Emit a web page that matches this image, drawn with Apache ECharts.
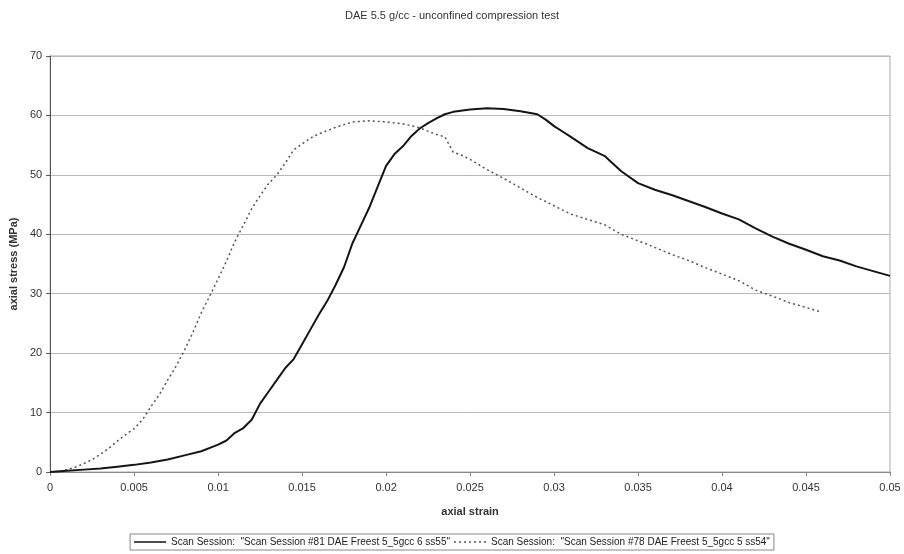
<!DOCTYPE html>
<html>
<head>
<meta charset="utf-8">
<script src="https://cdn.jsdelivr.net/npm/echarts@6/dist/echarts.min.js"></script>
<style>html,body{margin:0;padding:0;background:#fff;}#c{width:904px;height:554px;}</style>
</head>
<body>
<div id="c"></div>
<script>
const titleText = 'DAE 5.5 g/cc - unconfined compression test';
const xName = 'axial strain';
const yName = 'axial stress (MPa)';
const nameA = 'Scan Session:  "Scan Session #81 DAE Freest 5_5gcc 6 ss55"';
const nameB = 'Scan Session:  "Scan Session #78 DAE Freest 5_5gcc 5 ss54"';

const strainA = [0, 0.001, 0.002, 0.003, 0.004, 0.005, 0.006, 0.007, 0.008, 0.009, 0.010, 0.0105, 0.011, 0.0115, 0.012, 0.0125, 0.013, 0.0135, 0.014, 0.0145, 0.015, 0.0155, 0.016, 0.0165, 0.017, 0.0175, 0.018, 0.0185, 0.019, 0.0195, 0.020, 0.0205, 0.021, 0.0215, 0.022, 0.0225, 0.023, 0.0235, 0.024, 0.025, 0.026, 0.027, 0.028, 0.029, 0.0295, 0.030, 0.0305, 0.031, 0.032, 0.033, 0.034, 0.035, 0.036, 0.037, 0.038, 0.039, 0.040, 0.041, 0.042, 0.043, 0.044, 0.045, 0.046, 0.047, 0.048, 0.049, 0.050];
const stressA = [0, 0.2, 0.4, 0.6, 0.9, 1.2, 1.6, 2.1, 2.8, 3.5, 4.6, 5.3, 6.6, 7.4, 8.8, 11.5, 13.5, 15.5, 17.5, 19, 21.5, 24, 26.5, 28.8, 31.5, 34.5, 38.5, 41.5, 44.5, 48, 51.5, 53.5, 54.8, 56.5, 57.8, 58.7, 59.5, 60.2, 60.6, 61, 61.2, 61.1, 60.7, 60.2, 59.3, 58.2, 57.3, 56.4, 54.5, 53.2, 50.6, 48.6, 47.5, 46.6, 45.6, 44.6, 43.5, 42.5, 41, 39.6, 38.4, 37.4, 36.3, 35.6, 34.6, 33.8, 33];

const strainB = [0, 0.0005, 0.001, 0.0015, 0.002, 0.0025, 0.003, 0.0035, 0.004, 0.0045, 0.005, 0.0055, 0.006, 0.0065, 0.007, 0.0075, 0.008, 0.0085, 0.009, 0.0095, 0.010, 0.0105, 0.011, 0.0115, 0.012, 0.0125, 0.013, 0.0135, 0.014, 0.0145, 0.015, 0.0155, 0.016, 0.017, 0.018, 0.019, 0.020, 0.021, 0.022, 0.023, 0.0235, 0.024, 0.0245, 0.025, 0.026, 0.027, 0.028, 0.029, 0.030, 0.031, 0.032, 0.033, 0.034, 0.035, 0.036, 0.037, 0.038, 0.039, 0.040, 0.041, 0.042, 0.043, 0.044, 0.045, 0.0458];
const stressB = [0, 0.1, 0.4, 0.8, 1.4, 2.1, 3.0, 4.0, 5.2, 6.3, 7.3, 8.8, 11, 13, 15.5, 17.8, 20.5, 23.5, 26.8, 29.6, 32.5, 35.5, 38.8, 41.5, 44.3, 46.5, 48.5, 50, 52, 54.2, 55.2, 56.2, 56.9, 58, 58.9, 59.1, 58.9, 58.6, 57.9, 56.8, 56.4, 53.8, 53.3, 52.6, 50.9, 49.4, 47.8, 46.2, 44.8, 43.4, 42.5, 41.6, 40, 38.9, 37.8, 36.6, 35.6, 34.4, 33.3, 32.2, 30.6, 29.6, 28.5, 27.7, 27.0];

const xTicks = ['0', '0.005', '0.01', '0.015', '0.02', '0.025', '0.03', '0.035', '0.04', '0.045', '0.05'];

const pairsA = strainA.map((x, i) => [x, stressA[i]]);
const pairsB = strainB.map((x, i) => [x, stressB[i]]);

const FONT = '"Liberation Sans", Arial, sans-serif';
const dottedIcon = 'path://M0,0h2v1.5h-2z M5,0h2v1.5h-2z M10,0h2v1.5h-2z M15,0h2v1.5h-2z M20,0h2v1.5h-2z M25,0h2v1.5h-2z M30,0h2v1.5h-2z';
const chart = echarts.init(document.getElementById('c'), null, {renderer: 'canvas'});
chart.setOption({
  backgroundColor: '#ffffff',
  animation: false,
  textStyle: {fontFamily: FONT},
  title: {
    text: titleText, left: 'center', top: 5,
    textStyle: {fontFamily: FONT, fontSize: 11, fontWeight: 'normal', color: '#333'}
  },
  grid: {left: 49, right: 14, top: 56, bottom: 82, show: true, borderColor: '#aaa', borderWidth: 1, backgroundColor: 'transparent'},
  legend: {
    bottom: 4, left: 'center',
    itemWidth: 32, itemHeight: 10, itemGap: 4,
    borderColor: '#888', borderWidth: 1, padding: [3, 4, 3, 4],
    textStyle: {fontFamily: FONT, fontSize: 10, color: '#222'},
    data: [
      {name: nameA, icon: 'path://M0,0 L32,0 L32,1.5 L0,1.5 Z', itemStyle: {color: '#111'}},
      {name: nameB, icon: dottedIcon, itemStyle: {color: '#555'}}
    ]
  },
  xAxis: {
    type: 'value', min: 0, max: 0.05, interval: 0.005,
    name: xName, nameLocation: 'middle', nameGap: 34,
    nameTextStyle: {fontFamily: FONT, fontSize: 11, fontWeight: 'bold', color: '#333'},
    axisLine: {show: true, lineStyle: {color: '#888', width: 1}},
    axisTick: {show: true, length: 4, lineStyle: {color: '#888'}},
    splitLine: {show: false},
    axisLabel: {
      fontFamily: FONT, fontSize: 11, color: '#333', margin: 10,
      formatter: (v) => { const i = Math.round(v / 0.005); return xTicks[i] !== undefined ? xTicks[i] : ''; }
    }
  },
  yAxis: {
    type: 'value', min: 0, max: 70, interval: 10,
    name: yName, nameLocation: 'middle', nameGap: 30, nameRotate: 90,
    nameTextStyle: {fontFamily: FONT, fontSize: 11, fontWeight: 'bold', color: '#333'},
    axisLine: {show: true, lineStyle: {color: '#555', width: 1}},
    axisTick: {show: true, length: 4, lineStyle: {color: '#555'}},
    splitLine: {show: true, lineStyle: {color: '#b8b8b8', width: 1}},
    axisLabel: {fontFamily: FONT, fontSize: 11, color: '#333', margin: 8}
  },
  series: [
    {
      name: nameA, type: 'line', data: pairsA, showSymbol: false, symbol: 'none',
      lineStyle: {color: '#151515', width: 2, type: 'solid'},
      itemStyle: {color: '#151515'}, z: 3
    },
    {
      name: nameB, type: 'line', data: pairsB, showSymbol: false, symbol: 'none',
      lineStyle: {color: '#555', width: 1.5, type: [2, 3]},
      itemStyle: {color: '#555'}, z: 2
    }
  ]
});
</script>
</body>
</html>
